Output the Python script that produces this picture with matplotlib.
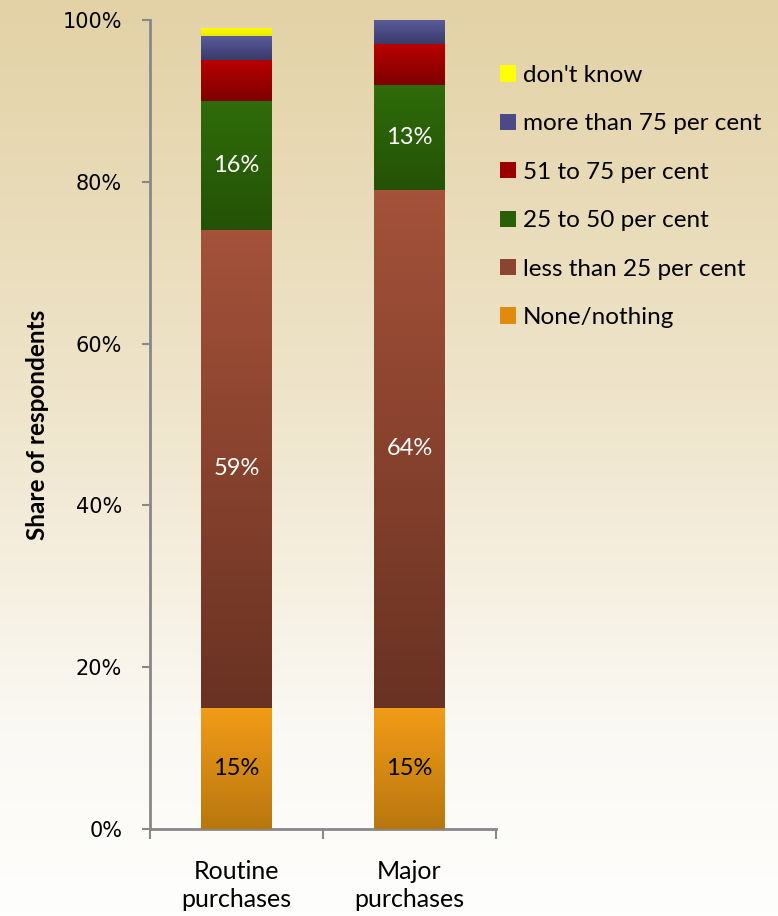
import numpy as np
import matplotlib
matplotlib.use('Agg')
import matplotlib.pyplot as plt
from matplotlib.colors import LinearSegmentedColormap
from matplotlib.patches import Patch

plt.rcParams['font.family'] = ['Lato', 'DejaVu Sans']

# data
categories = ['Routine\npurchases', 'Major\npurchases']
series = ['None/nothing', 'less than 25 per cent', '25 to 50 per cent',
          '51 to 75 per cent', 'more than 75 per cent', "don't know"]
values = {
    'None/nothing': [15, 15],
    'less than 25 per cent': [59, 64],
    '25 to 50 per cent': [16, 13],
    '51 to 75 per cent': [5, 5],
    'more than 75 per cent': [3, 3],
    "don't know": [1, 0],
}
show_label = ['None/nothing', 'less than 25 per cent', '25 to 50 per cent']
label_color = {'None/nothing': 'black', 'less than 25 per cent': 'white',
               '25 to 50 per cent': 'white'}

# (top, bottom) gradient colours per series
grad = {
    'None/nothing': ('#f29c18', '#b8770e'),
    'less than 25 per cent': ('#a4523a', '#6a3222'),
    '25 to 50 per cent': ('#2f6c0a', '#245206'),
    '51 to 75 per cent': ('#b80000', '#7e0000'),
    'more than 75 per cent': ('#5c5c9c', '#3a3a6c'),
    "don't know": ('#ffff00', '#e8e800'),
}
legend_col = {
    'None/nothing': '#e08a10',
    'less than 25 per cent': '#8a4430',
    '25 to 50 per cent': '#2a5e08',
    '51 to 75 per cent': '#9a0000',
    'more than 75 per cent': '#4a4a86',
    "don't know": '#ffff00',
}

fig = plt.figure(figsize=(7.78, 9.16), dpi=100)

# background gradient
bg = fig.add_axes([0, 0, 1, 1], zorder=-10)
bg_cmap = LinearSegmentedColormap.from_list(
    'bg', [(0, '#e3d2a6'), (0.45, '#efe5cc'), (0.8, '#fbf9f4'), (1, '#fefefd')])
bg.imshow(np.linspace(0, 1, 256).reshape(-1, 1), aspect='auto', cmap=bg_cmap,
          extent=[0, 1, 0, 1])
bg.set_axis_off()

ax = fig.add_axes([150 / 778, 1 - 829 / 916, (496 - 150) / 778, (829 - 20) / 916])
ax.set_facecolor('none')

x = np.arange(len(categories))
bottom = np.zeros(len(categories))
width = 0.405
for s in series:
    v = np.array(values[s], dtype=float)
    bars = ax.bar(x, v, width, bottom=bottom, color=legend_col[s], linewidth=0, zorder=2)
    top_c, bot_c = grad[s]
    cm = LinearSegmentedColormap.from_list(s, [bot_c, top_c])
    for b in bars:
        if b.get_height() <= 0:
            continue
        x0, y0 = b.get_x(), b.get_y()
        im = ax.imshow(np.linspace(0, 1, 64).reshape(-1, 1), cmap=cm, origin='lower',
                       aspect='auto', extent=[x0, x0 + b.get_width(), y0, y0 + b.get_height()],
                       zorder=3)
        im.set_clip_path(b)
    if s in show_label:
        for xi, bi, vi in zip(x, bottom, v):
            ax.text(xi, bi + vi / 2, f'{int(vi)}%', ha='center', va='center',
                    fontsize=17, color=label_color[s], zorder=5)
    bottom += v

ax.set_xlim(-0.5, 1.5)
ax.set_ylim(0, 100)
ax.set_yticks(np.arange(0, 101, 20))
ax.set_yticklabels([f'{t}%' for t in range(0, 101, 20)], fontsize=15,
                   family=['DejaVu Sans'])
ax.set_xticks(x)
ax.set_xticklabels(categories, fontsize=18, linespacing=1.3)
ax.set_xticks([-0.5, 0.5, 1.5], minor=True)
ax.tick_params(axis='x', which='major', length=0, pad=22)
ax.tick_params(axis='x', which='minor', length=7, width=1.5, color='#888888')
ax.tick_params(axis='y', length=6, width=1.5, color='#888888', pad=14)
for sp in ['top', 'right']:
    ax.spines[sp].set_visible(False)
for sp in ['left', 'bottom']:
    ax.spines[sp].set_color('#888888')
    ax.spines[sp].set_linewidth(2)
ax.set_ylabel('Share of respondents', fontsize=17.5, fontweight='bold', labelpad=10)

handles = [Patch(facecolor=legend_col[s], edgecolor='none') for s in series[::-1]]
fig.legend(handles, series[::-1], loc='upper left', bbox_to_anchor=(478 / 778, 1 - 43 / 916),
           frameon=False, fontsize=17.5, labelspacing=1.13, handlelength=0.66,
           handleheight=0.66, handletextpad=0.3)

fig.savefig('out.png', dpi=100)
